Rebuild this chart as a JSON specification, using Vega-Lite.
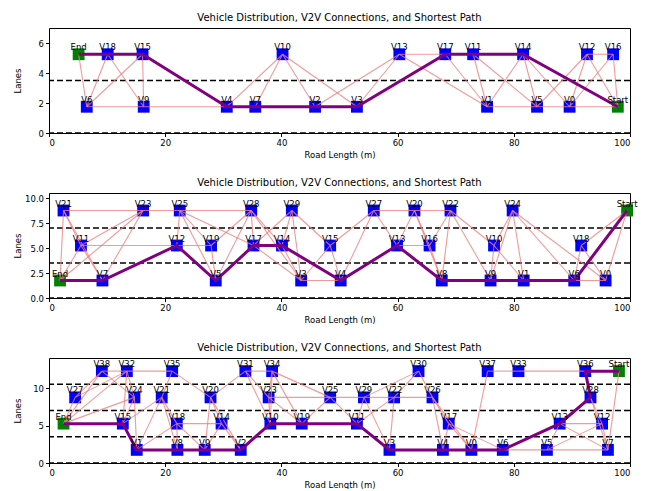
{
  "$schema": "https://vega.github.io/schema/vega-lite/v6.json",
  "background": "white",
  "padding": {"left": 12, "top": 12, "right": 5, "bottom": 0},
  "spacing": 18,
  "config": {
    "font": "DejaVu Sans",
    "view": {"stroke": "black", "strokeWidth": 1},
    "axis": {"grid": false, "domain": false, "tickColor": "black", "tickSize": 3.5, "labelColor": "black", "labelFontSize": 8.5, "titleFontSize": 8.5, "titleFontWeight": "normal", "titleColor": "black", "labelPadding": 2, "titlePadding": 3, "tickCount": 12},
    "axisY": {"minExtent": 24, "maxExtent": 24},
    "title": {"fontSize": 10, "fontWeight": "normal", "color": "black", "offset": 5}
  },
  "datasets": {
    "n1": [
      {"id":"End","x":5.1,"y":5.25,"p":10},{"id":"V18","x":10.1,"y":5.25,"p":9},{"id":"V15","x":16.1,"y":5.25,"p":8},
      {"id":"V6","x":6.5,"y":1.75},{"id":"V9","x":16.3,"y":1.75},{"id":"V4","x":30.6,"y":1.75,"p":7},
      {"id":"V7","x":35.5,"y":1.75,"p":6},{"id":"V10","x":40.2,"y":5.25},{"id":"V2","x":45.8,"y":1.75,"p":5},
      {"id":"V3","x":53.0,"y":1.75,"p":4},{"id":"V13","x":60.3,"y":5.25},{"id":"V17","x":68.2,"y":5.25,"p":3},
      {"id":"V11","x":73.0,"y":5.25,"p":2},{"id":"V14","x":81.6,"y":5.25,"p":1},{"id":"V1","x":75.4,"y":1.75},
      {"id":"V5","x":84.0,"y":1.75},{"id":"V0","x":89.6,"y":1.75},{"id":"V12","x":92.6,"y":5.25},
      {"id":"V16","x":97.1,"y":5.25},{"id":"Start","x":97.9,"y":1.75,"p":0}
    ],
    "e1": [
      {"a":"End","b":"V6"},{"a":"V18","b":"V6"},{"a":"V18","b":"V9"},{"a":"V15","b":"V6"},{"a":"V15","b":"V9"},
      {"a":"V6","b":"V9"},{"a":"V9","b":"V4"},{"a":"V4","b":"V10"},{"a":"V7","b":"V10"},{"a":"V10","b":"V2"},
      {"a":"V10","b":"V3"},{"a":"V2","b":"V13"},{"a":"V3","b":"V13"},{"a":"V13","b":"V17"},{"a":"V13","b":"V1"},
      {"a":"V17","b":"V1"},{"a":"V11","b":"V1"},{"a":"V14","b":"V1"},{"a":"V1","b":"V5"},{"a":"V14","b":"V5"},
      {"a":"V14","b":"V0"},{"a":"V5","b":"V0"},{"a":"V0","b":"Start"},{"a":"V12","b":"V5"},{"a":"V12","b":"V0"},
      {"a":"V12","b":"Start"},{"a":"V16","b":"V0"},{"a":"V16","b":"Start"},{"a":"V12","b":"V16"},{"a":"V11","b":"V5"}
    ],
    "n2": [
      {"id":"V21","x":2.5,"y":8.75},{"id":"V23","x":16.2,"y":8.75},{"id":"V25","x":22.5,"y":8.75},{"id":"V28","x":34.8,"y":8.75},
      {"id":"V29","x":41.8,"y":8.75},{"id":"V27","x":55.9,"y":8.75},{"id":"V20","x":62.9,"y":8.75},{"id":"V22","x":69.1,"y":8.75},
      {"id":"V24","x":79.8,"y":8.75},{"id":"Start","x":99.5,"y":8.75,"p":0},
      {"id":"V11","x":5.5,"y":5.25},{"id":"V12","x":22.0,"y":5.25,"p":10},{"id":"V19","x":27.9,"y":5.25},{"id":"V17","x":35.2,"y":5.25,"p":8},
      {"id":"V14","x":40.1,"y":5.25,"p":7},{"id":"V15","x":48.4,"y":5.25},{"id":"V13","x":59.9,"y":5.25,"p":5},{"id":"V16","x":65.5,"y":5.25},
      {"id":"V10","x":76.6,"y":5.25},{"id":"V18","x":91.6,"y":5.25},
      {"id":"End","x":1.9,"y":1.75,"p":12},{"id":"V7","x":9.2,"y":1.75,"p":11},{"id":"V5","x":28.7,"y":1.75,"p":9},{"id":"V3","x":43.4,"y":1.75},
      {"id":"V4","x":50.2,"y":1.75,"p":6},{"id":"V8","x":67.6,"y":1.75,"p":4},{"id":"V9","x":76.0,"y":1.75,"p":3},{"id":"V1","x":81.7,"y":1.75,"p":2},
      {"id":"V6","x":90.4,"y":1.75,"p":1},{"id":"V0","x":95.8,"y":1.75}
    ],
    "e2": [
      {"a":"V21","b":"V23"},{"a":"V23","b":"V25"},{"a":"V25","b":"V28"},{"a":"V21","b":"V11"},{"a":"V21","b":"End"},
      {"a":"V21","b":"V7"},{"a":"V23","b":"V11"},{"a":"V23","b":"End"},{"a":"V23","b":"V7"},{"a":"V11","b":"End"},
      {"a":"V11","b":"V7"},{"a":"V11","b":"V12"},{"a":"V12","b":"V19"},{"a":"V25","b":"V12"},{"a":"V25","b":"V5"},
      {"a":"V25","b":"V19"},{"a":"V25","b":"V17"},{"a":"V28","b":"V19"},{"a":"V28","b":"V17"},{"a":"V28","b":"V14"},
      {"a":"V28","b":"V3"},{"a":"V28","b":"V5"},{"a":"V29","b":"V17"},{"a":"V29","b":"V14"},{"a":"V29","b":"V3"},
      {"a":"V29","b":"V15"},{"a":"V19","b":"V5"},{"a":"V17","b":"V3"},{"a":"V14","b":"V3"},{"a":"V3","b":"V4"},
      {"a":"V15","b":"V4"},{"a":"V15","b":"V3"},{"a":"V27","b":"V15"},{"a":"V27","b":"V13"},{"a":"V27","b":"V4"},
      {"a":"V27","b":"V20"},{"a":"V20","b":"V22"},{"a":"V20","b":"V16"},{"a":"V20","b":"V13"},{"a":"V20","b":"V8"},
      {"a":"V22","b":"V16"},{"a":"V22","b":"V8"},{"a":"V22","b":"V9"},{"a":"V22","b":"V10"},{"a":"V13","b":"V16"},
      {"a":"V16","b":"V8"},{"a":"V24","b":"V10"},{"a":"V24","b":"V9"},{"a":"V24","b":"V1"},{"a":"V24","b":"V6"},
      {"a":"V24","b":"V0"},{"a":"V10","b":"V9"},{"a":"V10","b":"V1"},{"a":"V18","b":"V6"},{"a":"V18","b":"V0"},
      {"a":"V18","b":"Start"},{"a":"Start","b":"V0"},{"a":"V6","b":"V0"}
    ],
    "n3": [
      {"id":"V38","x":9.1,"y":12.25},{"id":"V32","x":13.4,"y":12.25},{"id":"V35","x":21.2,"y":12.25},{"id":"V31","x":33.8,"y":12.25},
      {"id":"V34","x":38.4,"y":12.25},{"id":"V30","x":63.6,"y":12.25},{"id":"V37","x":75.5,"y":12.25},{"id":"V33","x":80.8,"y":12.25},
      {"id":"V36","x":92.3,"y":12.25,"p":1},{"id":"Start","x":98.1,"y":12.25,"p":0},
      {"id":"V27","x":4.5,"y":8.75},{"id":"V24","x":14.7,"y":8.75},{"id":"V21","x":19.4,"y":8.75},{"id":"V20","x":27.8,"y":8.75},
      {"id":"V23","x":37.8,"y":8.75},{"id":"V25","x":48.4,"y":8.75},{"id":"V29","x":54.2,"y":8.75},{"id":"V22","x":59.4,"y":8.75},
      {"id":"V26","x":66.0,"y":8.75},{"id":"V28","x":93.2,"y":8.75,"p":2},
      {"id":"End","x":2.5,"y":5.25,"p":16},{"id":"V15","x":12.7,"y":5.25,"p":15},{"id":"V18","x":22.0,"y":5.25},{"id":"V14","x":29.7,"y":5.25},
      {"id":"V10","x":38.1,"y":5.25,"p":10},{"id":"V19","x":43.5,"y":5.25,"p":9},{"id":"V11","x":53.0,"y":5.25,"p":8},{"id":"V17","x":68.8,"y":5.25},
      {"id":"V13","x":87.9,"y":5.25,"p":3},{"id":"V12","x":95.2,"y":5.25},
      {"id":"V1","x":15.1,"y":1.75,"p":14},{"id":"V8","x":22.1,"y":1.75,"p":13},{"id":"V9","x":26.8,"y":1.75,"p":12},{"id":"V2","x":33.0,"y":1.75,"p":11},
      {"id":"V3","x":58.6,"y":1.75,"p":7},{"id":"V4","x":67.8,"y":1.75,"p":6},{"id":"V0","x":72.7,"y":1.75,"p":5},{"id":"V6","x":78.1,"y":1.75,"p":4},
      {"id":"V5","x":85.7,"y":1.75},{"id":"V7","x":96.2,"y":1.75}
    ],
    "e3": [
      {"a":"V38","b":"V32"},{"a":"V32","b":"V35"},{"a":"V38","b":"V27"},{"a":"V38","b":"End"},{"a":"V32","b":"End"},
      {"a":"V32","b":"V27"},{"a":"V27","b":"End"},{"a":"V38","b":"V24"},{"a":"End","b":"V24"},{"a":"V32","b":"V24"},
      {"a":"V32","b":"V15"},{"a":"V24","b":"V15"},{"a":"V24","b":"V1"},{"a":"V35","b":"V21"},{"a":"V35","b":"V20"},
      {"a":"V21","b":"V15"},{"a":"V21","b":"V18"},{"a":"V21","b":"V8"},{"a":"V21","b":"V1"},{"a":"V18","b":"V14"},
      {"a":"V18","b":"V8"},{"a":"V18","b":"V9"},{"a":"V18","b":"V1"},{"a":"V20","b":"V14"},{"a":"V20","b":"V9"},
      {"a":"V20","b":"V2"},{"a":"V20","b":"V31"},{"a":"V14","b":"V2"},{"a":"V14","b":"V9"},{"a":"V31","b":"V34"},
      {"a":"V31","b":"V23"},{"a":"V31","b":"V10"},{"a":"V34","b":"V23"},{"a":"V34","b":"V10"},{"a":"V34","b":"V19"},
      {"a":"V34","b":"V25"},{"a":"V23","b":"V25"},{"a":"V23","b":"V10"},{"a":"V23","b":"V19"},{"a":"V25","b":"V29"},
      {"a":"V25","b":"V19"},{"a":"V25","b":"V11"},{"a":"V29","b":"V22"},{"a":"V22","b":"V26"},{"a":"V30","b":"V29"},
      {"a":"V30","b":"V22"},{"a":"V30","b":"V26"},{"a":"V29","b":"V11"},{"a":"V29","b":"V3"},{"a":"V22","b":"V3"},
      {"a":"V22","b":"V11"},{"a":"V26","b":"V17"},{"a":"V26","b":"V4"},{"a":"V26","b":"V0"},{"a":"V17","b":"V4"},
      {"a":"V17","b":"V0"},{"a":"V17","b":"V6"},{"a":"V37","b":"V0"},{"a":"V37","b":"V33"},{"a":"V33","b":"V36"},
      {"a":"V13","b":"V12"},{"a":"V13","b":"V5"},{"a":"V13","b":"V7"},{"a":"V28","b":"V12"},{"a":"V28","b":"V7"},
      {"a":"V12","b":"V5"},{"a":"V12","b":"V7"},{"a":"Start","b":"V7"},{"a":"V6","b":"V5"},{"a":"V5","b":"V7"}
    ]
  },
  "vconcat": [
    {
      "width": 581, "height": 105,
      "title": "Vehicle Distribution, V2V Connections, and Shortest Path",
      "layer": [
        {"data": {"values": [{"y":0},{"y":3.5}]}, "mark": {"type":"rule","strokeDash":[6,3],"color":"black","strokeWidth":1.3},
         "encoding": {"y": {"field":"y","type":"quantitative","scale":{"domain":[0,7],"nice":false,"zero":false}}}},
        {"data": {"name":"n1"}, "mark": {"type":"square","size":140,"filled":true,"opacity":1},
         "encoding": {"x": {"field":"x","type":"quantitative","scale":{"domain":[0,100],"nice":false,"zero":false},"axis":{"values":[0,20,40,60,80,100],"format":"d","title":"Road Length (m)"}},
                      "y": {"field":"y","type":"quantitative","axis":{"values":[0,2,4,6],"format":"d","title":"Lanes","tickCount":12}},
                      "color": {"condition": {"test":"datum.id==='Start'||datum.id==='End'","value":"green"},"value":"blue"}}},
        {"data": {"name":"e1"},
         "transform": [{"lookup":"a","from":{"data":{"name":"n1"},"key":"id","fields":["x","y"]},"as":["x","y"]},
                       {"lookup":"b","from":{"data":{"name":"n1"},"key":"id","fields":["x","y"]},"as":["x2v","y2v"]}],
         "mark": {"type":"rule","color":"#f08080","opacity":0.8,"strokeWidth":1.1},
         "encoding": {"x":{"field":"x","type":"quantitative"},"y":{"field":"y","type":"quantitative"},"x2":{"field":"x2v"},"y2":{"field":"y2v"}}},
        {"data": {"name":"n1"}, "transform": [{"filter":"isValid(datum.p)"}], "mark": {"type":"line","color":"purple","strokeWidth":3},
         "encoding": {"x":{"field":"x","type":"quantitative"},"y":{"field":"y","type":"quantitative"},"order":{"field":"p","type":"quantitative"}}},
        {"data": {"name":"n1"}, "mark": {"type":"text","dy":-4,"baseline":"alphabetic","fontSize":8.5,"color":"black"},
         "encoding": {"x":{"field":"x","type":"quantitative"},"y":{"field":"y","type":"quantitative"},"text":{"field":"id"}}}
      ]
    },
    {
      "width": 581, "height": 105,
      "title": "Vehicle Distribution, V2V Connections, and Shortest Path",
      "layer": [
        {"data": {"values": [{"y":0},{"y":3.5},{"y":7}]}, "mark": {"type":"rule","strokeDash":[6,3],"color":"black","strokeWidth":1.3},
         "encoding": {"y": {"field":"y","type":"quantitative","scale":{"domain":[0,10.5],"nice":false,"zero":false}}}},
        {"data": {"name":"n2"}, "mark": {"type":"square","size":140,"filled":true,"opacity":1},
         "encoding": {"x": {"field":"x","type":"quantitative","scale":{"domain":[0,100],"nice":false,"zero":false},"axis":{"values":[0,20,40,60,80,100],"format":"d","title":"Road Length (m)"}},
                      "y": {"field":"y","type":"quantitative","axis":{"values":[0,2.5,5,7.5,10],"format":".1f","title":"Lanes","tickCount":12}},
                      "color": {"condition": {"test":"datum.id==='Start'||datum.id==='End'","value":"green"},"value":"blue"}}},
        {"data": {"name":"e2"},
         "transform": [{"lookup":"a","from":{"data":{"name":"n2"},"key":"id","fields":["x","y"]},"as":["x","y"]},
                       {"lookup":"b","from":{"data":{"name":"n2"},"key":"id","fields":["x","y"]},"as":["x2v","y2v"]}],
         "mark": {"type":"rule","color":"#f08080","opacity":0.8,"strokeWidth":1.1},
         "encoding": {"x":{"field":"x","type":"quantitative"},"y":{"field":"y","type":"quantitative"},"x2":{"field":"x2v"},"y2":{"field":"y2v"}}},
        {"data": {"name":"n2"}, "transform": [{"filter":"isValid(datum.p)"}], "mark": {"type":"line","color":"purple","strokeWidth":3},
         "encoding": {"x":{"field":"x","type":"quantitative"},"y":{"field":"y","type":"quantitative"},"order":{"field":"p","type":"quantitative"}}},
        {"data": {"name":"n2"}, "mark": {"type":"text","dy":-4,"baseline":"alphabetic","fontSize":8.5,"color":"black"},
         "encoding": {"x":{"field":"x","type":"quantitative"},"y":{"field":"y","type":"quantitative"},"text":{"field":"id"}}}
      ]
    },
    {
      "width": 581, "height": 105,
      "title": "Vehicle Distribution, V2V Connections, and Shortest Path",
      "layer": [
        {"data": {"values": [{"y":0},{"y":3.5},{"y":7},{"y":10.5}]}, "mark": {"type":"rule","strokeDash":[6,3],"color":"black","strokeWidth":1.3},
         "encoding": {"y": {"field":"y","type":"quantitative","scale":{"domain":[0,14],"nice":false,"zero":false}}}},
        {"data": {"name":"n3"}, "mark": {"type":"square","size":140,"filled":true,"opacity":1},
         "encoding": {"x": {"field":"x","type":"quantitative","scale":{"domain":[0,100],"nice":false,"zero":false},"axis":{"values":[0,20,40,60,80,100],"format":"d","title":"Road Length (m)"}},
                      "y": {"field":"y","type":"quantitative","axis":{"values":[0,5,10],"format":"d","title":"Lanes","tickCount":12}},
                      "color": {"condition": {"test":"datum.id==='Start'||datum.id==='End'","value":"green"},"value":"blue"}}},
        {"data": {"name":"e3"},
         "transform": [{"lookup":"a","from":{"data":{"name":"n3"},"key":"id","fields":["x","y"]},"as":["x","y"]},
                       {"lookup":"b","from":{"data":{"name":"n3"},"key":"id","fields":["x","y"]},"as":["x2v","y2v"]}],
         "mark": {"type":"rule","color":"#f08080","opacity":0.8,"strokeWidth":1.1},
         "encoding": {"x":{"field":"x","type":"quantitative"},"y":{"field":"y","type":"quantitative"},"x2":{"field":"x2v"},"y2":{"field":"y2v"}}},
        {"data": {"name":"n3"}, "transform": [{"filter":"isValid(datum.p)"}], "mark": {"type":"line","color":"purple","strokeWidth":3},
         "encoding": {"x":{"field":"x","type":"quantitative"},"y":{"field":"y","type":"quantitative"},"order":{"field":"p","type":"quantitative"}}},
        {"data": {"name":"n3"}, "mark": {"type":"text","dy":-4,"baseline":"alphabetic","fontSize":8.5,"color":"black"},
         "encoding": {"x":{"field":"x","type":"quantitative"},"y":{"field":"y","type":"quantitative"},"text":{"field":"id"}}}
      ]
    }
  ]
}
